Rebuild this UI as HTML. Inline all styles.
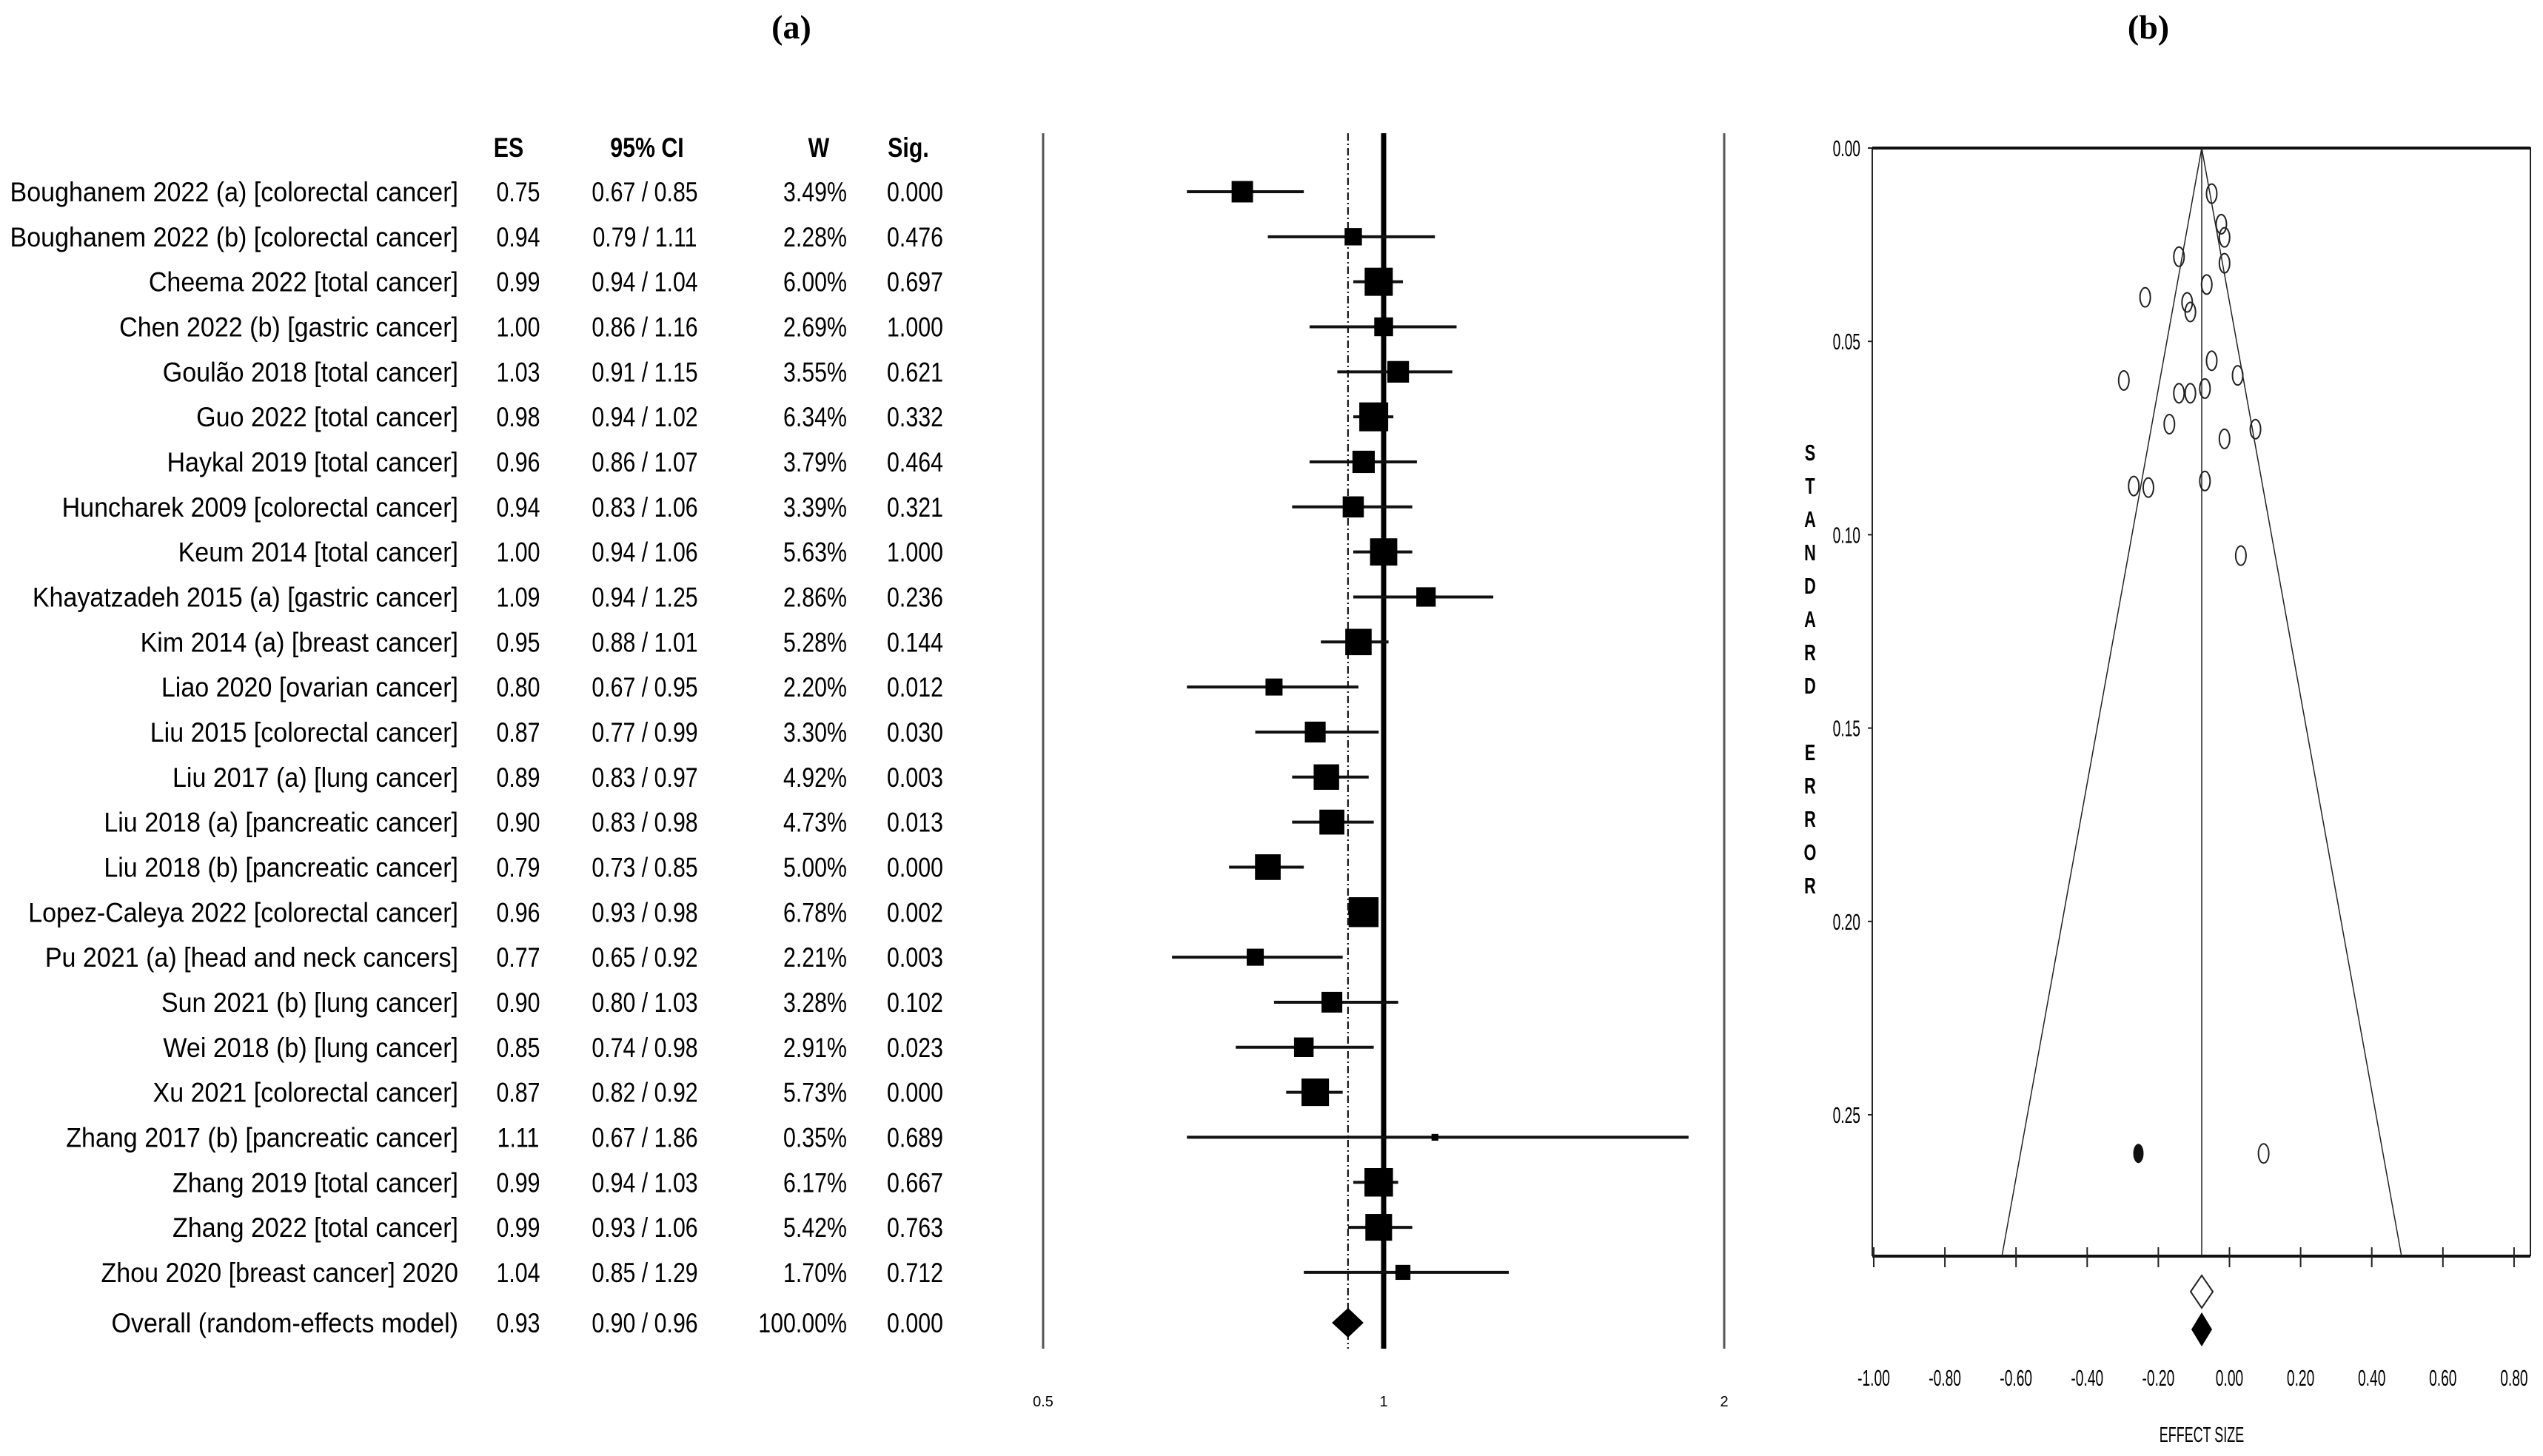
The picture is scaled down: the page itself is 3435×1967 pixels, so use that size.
<!DOCTYPE html>
<html><head><meta charset="utf-8"><style>
html,body{margin:0;padding:0;background:#fff}
svg{display:block;font-family:"Liberation Sans",sans-serif}
</style></head><body>
<svg id="c" width="3435" height="1967" viewBox="0 0 3435 1967" xmlns="http://www.w3.org/2000/svg">
<text x="1069" y="52" font-family="Liberation Serif,serif" font-weight="bold" font-size="46" text-anchor="middle">(a)</text>
<text x="2902" y="52" font-family="Liberation Serif,serif" font-weight="bold" font-size="46" text-anchor="middle">(b)</text>
<g id="forest"></g>
<g id="funnel"></g>
</svg>
<script>
const studies=["Boughanem 2022 (a) [colorectal cancer]","Boughanem 2022 (b) [colorectal cancer]","Cheema 2022 [total cancer]","Chen 2022 (b) [gastric cancer]","Goulão 2018 [total cancer]","Guo 2022 [total cancer]","Haykal 2019 [total cancer]","Huncharek 2009 [colorectal cancer]","Keum 2014 [total cancer]","Khayatzadeh 2015 (a) [gastric cancer]","Kim 2014 (a) [breast cancer]","Liao 2020 [ovarian cancer]","Liu 2015 [colorectal cancer]","Liu 2017 (a) [lung cancer]","Liu 2018 (a) [pancreatic cancer]","Liu 2018 (b) [pancreatic cancer]","Lopez-Caleya 2022 [colorectal cancer]","Pu 2021 (a) [head and neck cancers]","Sun 2021 (b) [lung cancer]","Wei 2018 (b) [lung cancer]","Xu 2021 [colorectal cancer]","Zhang 2017 (b) [pancreatic cancer]","Zhang 2019 [total cancer]","Zhang 2022 [total cancer]","Zhou 2020 [breast cancer] 2020"];
const es=[0.75,0.94,0.99,1.00,1.03,0.98,0.96,0.94,1.00,1.09,0.95,0.80,0.87,0.89,0.90,0.79,0.96,0.77,0.90,0.85,0.87,1.11,0.99,0.99,1.04];
const lo=[0.67,0.79,0.94,0.86,0.91,0.94,0.86,0.83,0.94,0.94,0.88,0.67,0.77,0.83,0.83,0.73,0.93,0.65,0.80,0.74,0.82,0.67,0.94,0.93,0.85];
const hi=[0.85,1.11,1.04,1.16,1.15,1.02,1.07,1.06,1.06,1.25,1.01,0.95,0.99,0.97,0.98,0.85,0.98,0.92,1.03,0.98,0.92,1.86,1.03,1.06,1.29];
const wt=[3.49,2.28,6.00,2.69,3.55,6.34,3.79,3.39,5.63,2.86,5.28,2.20,3.30,4.92,4.73,5.00,6.78,2.21,3.28,2.91,5.73,0.35,6.17,5.42,1.70];
const sig=["0.000","0.476","0.697","1.000","0.621","0.332","0.464","0.321","1.000","0.236","0.144","0.012","0.030","0.003","0.013","0.000","0.002","0.003","0.102","0.023","0.000","0.689","0.667","0.763","0.712"];
const overall={es:0.93,lo:0.90,hi:0.96,w:"100.00%",sig:"0.000"};
const forestTicks=[0.5,1,2];
const funnelEffect=[-0.050,-0.023,-0.014,-0.014,-0.064,-0.142,-0.237,-0.119,-0.110,-0.050,-0.297,-0.142,-0.110,-0.069,0.023,-0.169,-0.014,0.073,-0.269,-0.228,-0.069,0.032,0.096];
const funnelSE=[0.0118,0.0197,0.0231,0.0298,0.0353,0.0281,0.0386,0.0399,0.0424,0.0550,0.0601,0.0634,0.0634,0.0622,0.0588,0.0714,0.0752,0.0727,0.0874,0.0878,0.0861,0.1054,0.260];
const imputedEffect=[-0.256];
const imputedSE=[0.260];
const pooledEffect=-0.078;
const xTicks=[-1,-0.8,-0.6,-0.4,-0.2,0,0.2,0.4,0.6,0.8];
const yTicks=[0,0.05,0.10,0.15,0.20,0.25];
const NS="http://www.w3.org/2000/svg";
function mk(p,t,a){const e=document.createElementNS(NS,t);for(const k in a)e.setAttribute(k,a[k]);p.appendChild(e);return e;}
function txt(p,x,y,s,size,anchor,bold,sx){const e=mk(p,"text",{x:x/sx,y:y,"font-size":size,"text-anchor":anchor,transform:"scale("+sx+",1)"});if(bold)e.setAttribute("font-weight","bold");e.textContent=s;return e;}
// forest
const F=document.getElementById("forest");
const fx=v=>1409+(Math.log2(v)+1)*460;
const fy=i=>259+i*60.83;
const hd=[["ES",687],["95% CI",874],["W",1106],["Sig.",1227]];
hd.forEach(h=>{const e=txt(F,h[1],212,h[0],37,"middle",true,0.82);

});
[1409,2329].forEach(x=>{const l=mk(F,"line",{x1:x,x2:x,y1:180,y2:1822,stroke:"#555","stroke-width":3});

});
forestTicks.forEach(t=>{const e=txt(F,fx(t),1900,String(t),20,"middle",false,1);

});
const dl=mk(F,"line",{x1:fx(overall.es),x2:fx(overall.es),y1:180,y2:1822,stroke:"#000","stroke-width":2,"stroke-dasharray":"10,4,2,4"});


const rl=mk(F,"line",{x1:fx(1),x2:fx(1),y1:180,y2:1822,stroke:"#000","stroke-width":7});


studies.forEach((s,i)=>{const y=fy(i);
const n=txt(F,619,y+13,s,37,"end",false,0.92);


const a=txt(F,700,y+13,es[i].toFixed(2),37,"middle",false,0.82);


const b=txt(F,871,y+13,lo[i].toFixed(2)+" / "+hi[i].toFixed(2),37,"middle",false,0.82);


const c=txt(F,1144,y+13,wt[i].toFixed(2)+"%",37,"end",false,0.82);


const d=txt(F,1236,y+13,sig[i],37,"middle",false,0.82);


const l=mk(F,"line",{x1:fx(lo[i]),x2:fx(hi[i]),y1:y,y2:y,stroke:"#111","stroke-width":4});


const sz=15.5*Math.sqrt(wt[i]);
const r=mk(F,"rect",{x:fx(es[i])-sz/2,y:y-sz/2,width:sz,height:sz,fill:"#000"});

});
{const y=1787;
const n=txt(F,619,y+13,"Overall (random-effects model)",37,"end",false,0.92);


[[700,overall.es.toFixed(2),"middle"],[871,overall.lo.toFixed(2)+" / "+overall.hi.toFixed(2),"middle"],[1144,overall.w,"end"],[1236,overall.sig,"middle"]].forEach(v=>{const e=txt(F,v[0],y+13,v[1],37,v[2],false,0.82);

});
const p=mk(F,"polygon",{points:[fx(overall.lo)+","+y,fx(overall.es)+","+(y-20),fx(overall.hi)+","+y,fx(overall.es)+","+(y+20)].join(" "),fill:"#000"});

}
// funnel
const G=document.getElementById("funnel");
const gx=v=>2531+(v+1)*480.5;
const gy=s=>200+s*5224;
const box=mk(G,"path",{d:"M2529,1697 L2529,200 L3418,200 L3418,1697",fill:"none",stroke:"#222","stroke-width":2});


const topLine=mk(G,"line",{x1:2529,x2:3418,y1:200,y2:200,stroke:"#111","stroke-width":4});


const xa=mk(G,"line",{x1:2529,x2:3418,y1:1697,y2:1697,stroke:"#111","stroke-width":4});


xTicks.forEach(t=>{const l=mk(G,"line",{x1:gx(t),x2:gx(t),y1:1685,y2:1712,stroke:"#222","stroke-width":2});


const e=txt(G,gx(t),1872,t.toFixed(2),31,"middle",false,0.62);

});
yTicks.forEach(t=>{const l=mk(G,"line",{x1:2523,x2:2529,y1:gy(t),y2:gy(t),stroke:"#222","stroke-width":2});


const e=txt(G,2513,gy(t)+11,t.toFixed(2),31,"end",false,0.62);

});
const xt=txt(G,2974,1948,"EFFECT SIZE",29,"middle",false,0.62);


"STANDARD ERROR".split("").forEach((ch,i)=>{if(ch===" ")return;const e=txt(G,2445,622+i*45,ch,31,"middle",true,0.7);

});
const seMax=(1697-200)/5224;
const fun=mk(G,"polyline",{points:gx(pooledEffect-1.96*seMax)+",1697 "+gx(pooledEffect)+","+gy(0)+" "+gx(pooledEffect+1.96*seMax)+",1697",fill:"none",stroke:"#222","stroke-width":1.5});


const cl=mk(G,"line",{x1:gx(pooledEffect),x2:gx(pooledEffect),y1:200,y2:1697,stroke:"#222","stroke-width":1.5});


funnelEffect.forEach((v,i)=>{const e=mk(G,"ellipse",{cx:gx(v),cy:gy(funnelSE[i]),rx:7,ry:13,fill:"none",stroke:"#222","stroke-width":2});

});
imputedEffect.forEach((v,i)=>{const e=mk(G,"ellipse",{cx:gx(v),cy:gy(imputedSE[i]),rx:7,ry:13,fill:"#111"});

});
const d1=mk(G,"polygon",{points:[gx(pooledEffect)-15+",1745",gx(pooledEffect)+",1723",gx(pooledEffect)+15+",1745",gx(pooledEffect)+",1767"].join(" "),fill:"#fff",stroke:"#222","stroke-width":2});


const d2=mk(G,"polygon",{points:[gx(pooledEffect)-14+",1796",gx(pooledEffect)+",1773",gx(pooledEffect)+14+",1796",gx(pooledEffect)+",1819"].join(" "),fill:"#000"});


</script>
</body></html>
